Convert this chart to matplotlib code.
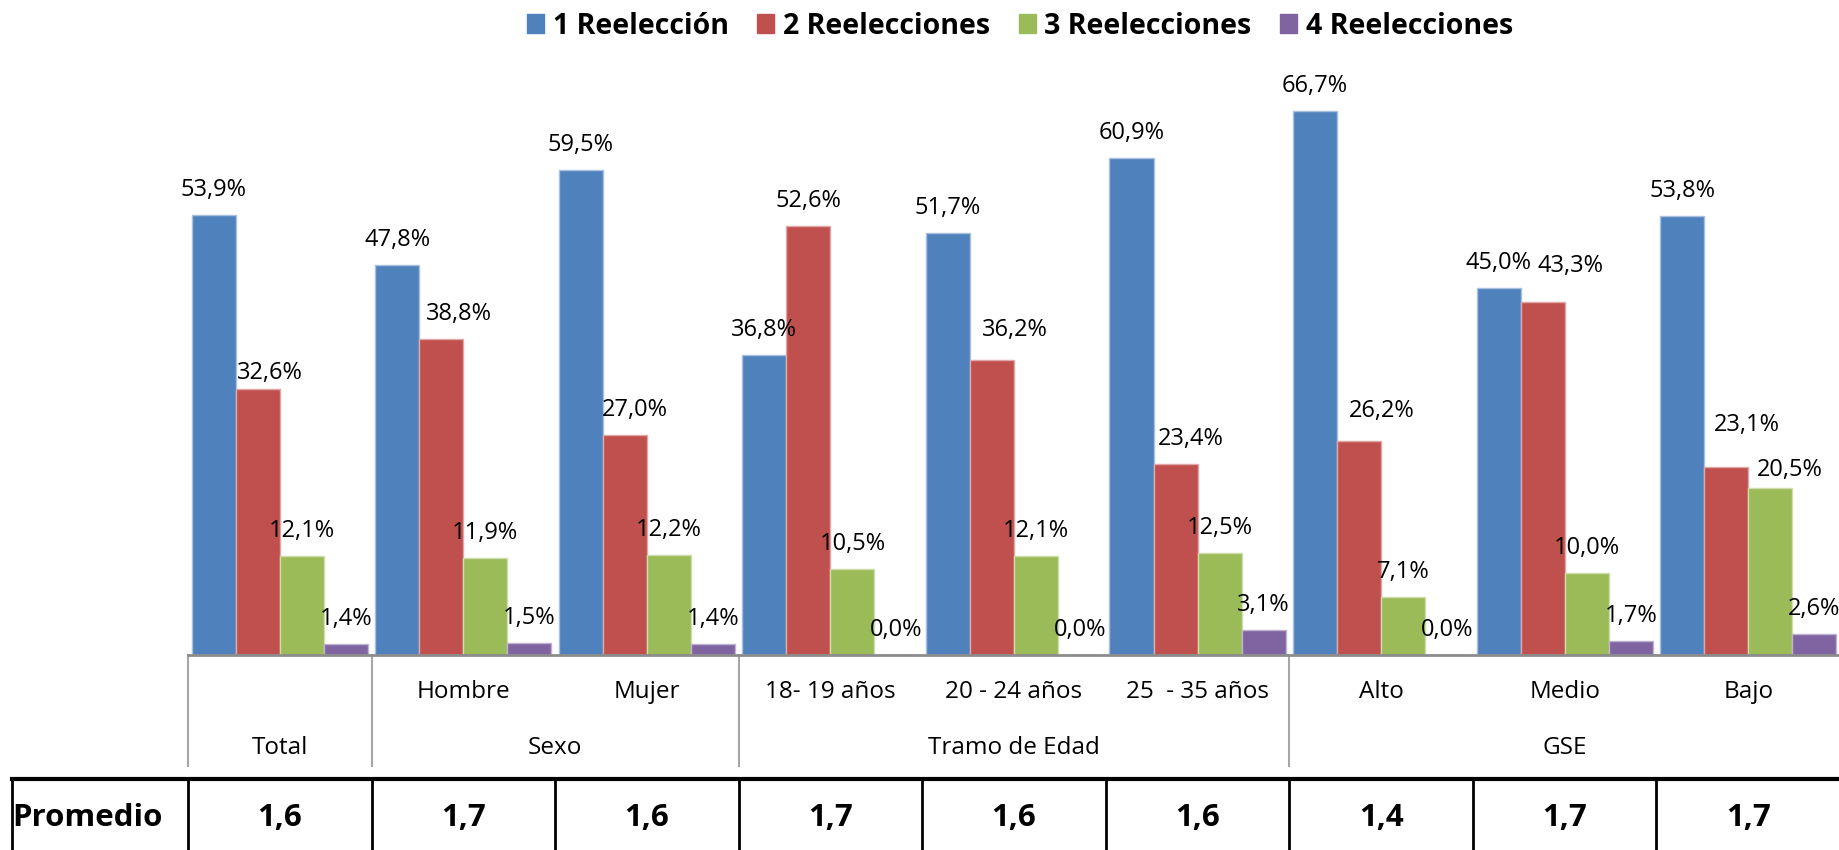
import matplotlib
matplotlib.use("Agg")
import matplotlib.pyplot as plt
from matplotlib.lines import Line2D
from matplotlib.patches import Patch
from matplotlib.transforms import blended_transform_factory

plt.rcParams['font.family'] = ['Open Sans', 'DejaVu Sans']

categories = ['', 'Hombre', 'Mujer', '18- 19 años', '20 - 24 años', '25  - 35 años',
              'Alto', 'Medio', 'Bajo']
groups = ['Total', 'Sexo', 'Tramo de Edad', 'GSE']
group_sizes = [1, 2, 3, 3]
series = ['1 Reelección', '2 Reelecciones', '3 Reelecciones', '4 Reelecciones']

reel_1 = [53.9, 47.8, 59.5, 36.8, 51.7, 60.9, 66.7, 45.0, 53.8]
reel_2 = [32.6, 38.8, 27.0, 52.6, 36.2, 23.4, 26.2, 43.3, 23.1]
reel_3 = [12.1, 11.9, 12.2, 10.5, 12.1, 12.5, 7.1, 10.0, 20.5]
reel_4 = [1.4, 1.5, 1.4, 0.0, 0.0, 3.1, 0.0, 1.7, 2.6]
promedio = [1.6, 1.7, 1.6, 1.7, 1.6, 1.6, 1.4, 1.7, 1.7]

colors = ['#4F81BD', '#C0504D', '#9BBB59', '#8064A2']
edges = ['#A9C0DE', '#DFA8A6', '#CDDDAC', '#BFB1D0']

W, H = 1840, 850


def fy(py):
    return 1 - py / H


fig = plt.figure(figsize=(W / 100, H / 100), dpi=100)
ax = fig.add_axes([188 / W, (H - 655) / H, 1 - 188 / W, 571 / H])

values = [reel_1, reel_2, reel_3, reel_4]
bw = 0.24
n = len(categories)

# manual label nudges (pixels) as in the original
nudge = {(0, 1): (12, -9), (1, 1): (18, 0), (2, 1): (10, 0), (4, 1): (23, 5),
         (5, 1): (15, 0), (6, 1): (23, 5), (7, 1): (28, 11), (8, 1): (21, 17),
         (8, 2): (20, -7)}

for j, vals in enumerate(values):
    xs = [i + (j - 1.5) * bw for i in range(n)]
    ax.bar(xs, vals, width=bw, color=colors[j], edgecolor=edges[j], linewidth=1)
    for i, (x, v) in enumerate(zip(xs, vals)):
        dx, dy = nudge.get((i, j), (0, 0))
        ax.annotate(f'{v:.1f}%'.replace('.', ','), (x, v), xytext=(dx, 19 + dy),
                    textcoords='offset pixels', ha='center', va='baseline',
                    fontsize=17, color='black', annotation_clip=False)

ax.set_xlim(-0.5, n - 0.5)
ax.set_ylim(0, 70)
ax.set_xticks([])
ax.set_yticks([])
for s in ['top', 'left', 'right']:
    ax.spines[s].set_visible(False)
ax.spines['bottom'].set_color('#8c8c8c')
ax.spines['bottom'].set_linewidth(2)

tr = blended_transform_factory(ax.transData, fig.transFigure)

# category and group labels
for i, c in enumerate(categories):
    ax.text(i, fy(692), c, transform=tr, ha='center', va='center', fontsize=17.5)

start = 0
bounds = [-0.5]
for g, size in zip(groups, group_sizes):
    ax.text(start + (size - 1) / 2, fy(748), g, transform=tr, ha='center',
            va='center', fontsize=17.5)
    start += size
    bounds.append(start - 0.5)

for b in bounds[:-1]:
    ax.add_line(Line2D([b, b], [fy(655), fy(766)], transform=tr, color='#a6a6a6',
                       lw=1.5, clip_on=False))

# Promedio row
fig.add_artist(Line2D([12 / W, 1], [fy(779), fy(779)], transform=fig.transFigure,
                      color='black', lw=3))
fig.add_artist(Line2D([12 / W, 12 / W], [fy(779), 0], transform=fig.transFigure,
                      color='black', lw=2))
for i in range(n):
    ax.add_line(Line2D([i - 0.5, i - 0.5], [fy(779), 0], transform=tr, color='black',
                       lw=2, clip_on=False))
fig.text(12 / W, fy(818), 'Promedio', ha='left', va='center', fontsize=22.5,
         fontweight='bold')
for i, p in enumerate(promedio):
    ax.text(i, fy(818), f'{p:.1f}'.replace('.', ','), transform=tr, ha='center',
            va='center', fontsize=22.5, fontweight='bold')

handles = [Patch(facecolor=c, edgecolor=c) for c in colors]
fig.legend(handles, series, loc='center', bbox_to_anchor=(1020 / W, fy(26)),
           ncol=4, frameon=False, prop={'size': 20.5, 'weight': 'bold'},
           handlelength=0.6, handleheight=0.6, handletextpad=0.3,
           columnspacing=1.0)

fig.savefig('out.png', dpi=100)
